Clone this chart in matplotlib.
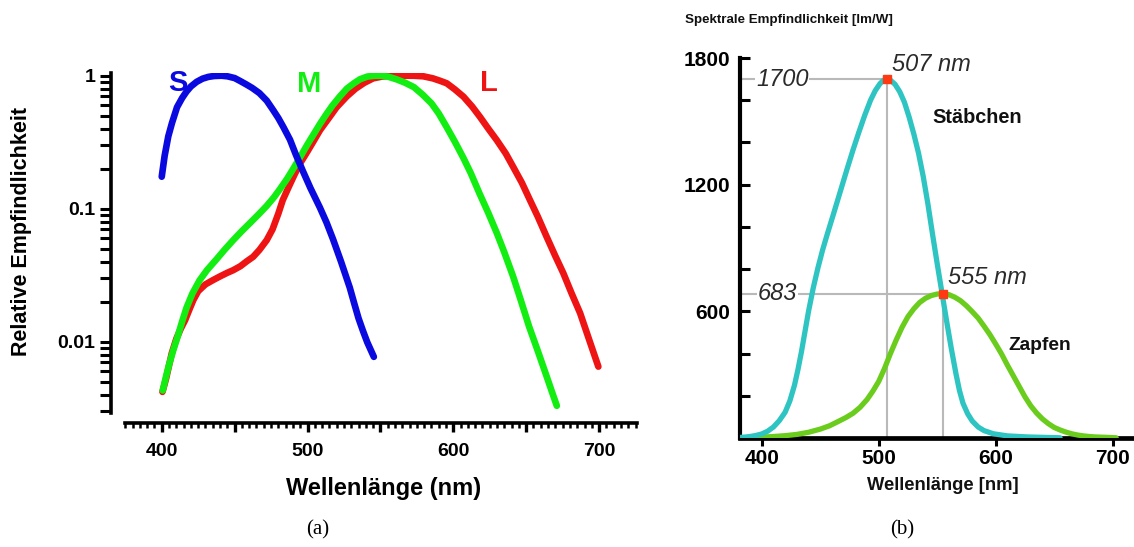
import matplotlib
matplotlib.use("Agg")
import matplotlib.pyplot as plt
from matplotlib import font_manager
from matplotlib.ticker import FixedLocator, FixedFormatter, LogLocator, NullFormatter, FuncFormatter

# ---------------- data: panel (a) relative sensitivity (log scale) ----------------
s_wl = [400, 402, 404.5, 407, 410.5, 414, 417, 420, 424, 428, 432, 436, 441, 445, 450, 454,
        458, 462, 467, 472, 476.5, 480, 483.5, 488, 492, 497, 502, 508.5, 513, 517.5, 523,
        529, 532, 535, 538, 541, 545.5]
s_val = [0.174, 0.25, 0.35, 0.44, 0.58, 0.68, 0.76, 0.83, 0.9, 0.95, 0.98, 0.995, 1.0, 0.99,
         0.96, 0.91, 0.86, 0.81, 0.74, 0.65, 0.55, 0.48, 0.41, 0.33, 0.255, 0.19, 0.143, 0.102,
         0.079, 0.059, 0.04, 0.0255, 0.0195, 0.015, 0.0121, 0.0099, 0.0077]

m_wl = [400.7, 403, 405, 408, 411, 414, 417, 421, 426, 431, 437, 443, 449, 455, 461, 467,
        472, 477, 481, 486, 490, 495, 500, 505, 508.6, 513, 517, 522, 527, 532, 536, 541,
        546, 550, 555, 561, 567, 573, 579, 585, 590, 595.5, 601, 607, 612, 618, 624, 630,
        635, 641, 646, 652, 658, 664, 668, 671]
m_val = [0.0043, 0.0055, 0.0067, 0.0087, 0.011, 0.0142, 0.018, 0.023, 0.029, 0.0345, 0.041,
         0.049, 0.058, 0.068, 0.079, 0.092, 0.105, 0.122, 0.14, 0.168, 0.198, 0.245, 0.305,
         0.375, 0.435, 0.515, 0.595, 0.695, 0.80, 0.88, 0.94, 0.985, 1.0, 1.0, 0.985, 0.94,
         0.885, 0.82, 0.72, 0.62, 0.52, 0.41, 0.32, 0.24, 0.185, 0.13, 0.093, 0.065, 0.047,
         0.031, 0.021, 0.013, 0.0085, 0.0055, 0.0041, 0.0033]

l_wl = [400.5, 403, 406.9, 410, 413, 416, 419, 421.7, 425, 430, 435, 440, 445, 449, 454,
        458, 462.7, 467, 472, 476, 480, 483, 487, 491, 495, 500, 504, 508.6, 514, 520, 527,
        533, 539, 545, 551, 557, 563.5, 572.6, 579.4, 586, 591, 595.5, 601, 607, 613, 618.3,
        624, 629.7, 636, 641, 647, 652.6, 658, 664, 670, 675.5, 681, 687, 693, 699.5]
l_val = [0.0042, 0.0053, 0.0082, 0.0105, 0.0125, 0.0145, 0.0175, 0.0206, 0.024, 0.027, 0.029,
         0.031, 0.033, 0.0345, 0.037, 0.040, 0.0435, 0.049, 0.058, 0.07, 0.092, 0.116, 0.145,
         0.18, 0.22, 0.27, 0.32, 0.39, 0.47, 0.58, 0.70, 0.80, 0.885, 0.955, 0.985, 1.0, 1.0,
         1.0, 0.99, 0.955, 0.915, 0.877, 0.79, 0.695, 0.585, 0.49, 0.40, 0.329, 0.26, 0.207,
         0.157, 0.116, 0.087, 0.0616, 0.044, 0.0327, 0.0233, 0.0164, 0.0105, 0.0065]

a_yticks = [0.01, 0.1, 1]
a_yticklabels = ["0.01", "0.1", "1"]
a_xmajor = [400, 450, 500, 550, 600, 650, 700]
a_xminor = list(range(375, 730, 5))
a_xlabels = [400, 500, 600, 700]

# ---------------- data: panel (b) spectral luminous efficacy ----------------
rod_wl = [380, 385, 390, 395, 400, 405, 410, 415, 420, 424, 428, 431, 434, 437, 440, 444,
          448, 452, 456, 461, 467, 473, 478, 483, 488, 493, 497, 501, 504, 507, 510, 514,
          518, 522, 526, 530, 534, 538, 542, 546, 550, 554, 558, 562, 566, 569, 572, 576,
          580, 585, 590, 598, 610, 627, 655]
rod_val = [2, 4, 7, 12, 19, 32, 52, 82, 122, 175, 250, 325, 410, 505, 600, 710,
           805, 890, 965, 1055, 1165, 1275, 1364, 1448, 1528, 1600, 1645, 1678, 1694, 1700,
           1695, 1675, 1640, 1590, 1520, 1440, 1350, 1240, 1110, 965, 825, 690, 555, 425,
           305, 225, 165, 115, 80, 52, 35, 20, 10, 5, 1]

cone_wl = [380, 390, 400, 410, 420, 430, 440, 450, 458, 466, 472, 478, 484, 490, 495, 500,
           505, 510, 515, 520, 525, 530, 535, 540, 545, 550, 555, 560, 565, 570, 575, 580,
           585, 590, 595, 600, 605, 610, 615, 620, 625, 630, 635, 640, 645, 650, 655, 660,
           665, 670, 675, 680, 685, 690, 695, 703]
cone_val = [0, 1, 4, 7, 11, 17, 27, 42, 58, 80, 97, 117, 145, 182, 222, 268,
            330, 400, 465, 525, 575, 612, 642, 662, 675, 682, 683, 679, 667, 650, 626, 598,
            568, 530, 490, 445, 398, 345, 295, 245, 195, 152, 118, 90, 68, 50, 38, 28,
            20, 14, 10, 7, 5, 4, 3, 1]

peaks_wl = [507, 555]
peaks_val = [1700, 683]
b_yticks = [200, 400, 600, 800, 1000, 1200, 1400, 1600, 1800]
b_ylabeled = [600, 1200, 1800]
b_xticks = [400, 500, 600, 700]


def pick(*names):
    for n in names:
        try:
            font_manager.findfont(font_manager.FontProperties(family=n), fallback_to_default=False)
            return n
        except Exception:
            pass
    return "DejaVu Sans"


sans = pick("Liberation Sans", "Arial", "DejaVu Sans")
serif = pick("Liberation Serif", "DejaVu Serif")
plt.rcParams["font.family"] = [sans, "DejaVu Sans"]

W, H = 1134, 547
fig = plt.figure(figsize=(W / 100, H / 100), dpi=100)


def rect(l, t, r, b):
    return [l / W, 1 - b / H, (r - l) / W, (b - t) / H]


# ================= panel (a) =================
ax1 = fig.add_axes(rect(110.7, 73, 637, 423))
ax1.set_yscale("log")
ax1.set_xlim(365, 726)
ax1.set_ylim(0.00245, 1.048)

kw = dict(lw=4.8, solid_capstyle="round", solid_joinstyle="round")
ax1.plot(l_wl, l_val, color="#ee1414", zorder=3, **kw)
ax1.plot(m_wl, m_val, color="#12ee12", zorder=4, **kw)
ax1.plot(s_wl, s_val, color="#0a0ae0", zorder=5, **kw)

ax1.text(411.2, 0.88, "S", color="#0a0ae0", fontsize=21, fontweight="bold", ha="center", va="center")
ax1.text(501.4, 0.87, "M", color="#12ee12", fontsize=21, fontweight="bold", ha="center", va="center")
ax1.text(624.5, 0.88, "L", color="#ee1414", fontsize=21, fontweight="bold", ha="center", va="center")

for sp in ["top", "right"]:
    ax1.spines[sp].set_visible(False)
ax1.spines["left"].set_linewidth(2.6)
ax1.spines["bottom"].set_linewidth(2.6)
ax1.spines["left"].set_bounds(0.0029, 1.048)
ax1.spines["bottom"].set_bounds(375, 726)

ax1.yaxis.set_major_locator(FixedLocator(a_yticks))
ax1.yaxis.set_major_formatter(FixedFormatter(a_yticklabels))
ax1.yaxis.set_minor_locator(LogLocator(base=10, subs=range(2, 10), numticks=20))
ax1.yaxis.set_minor_formatter(NullFormatter())
ax1.tick_params(axis="y", which="both", direction="out", length=8, width=2.2, pad=3,
                labelsize=14)
for t in ax1.get_yticklabels():
    t.set_fontweight("bold")

ax1.xaxis.set_major_locator(FixedLocator(a_xmajor))
ax1.xaxis.set_minor_locator(FixedLocator(a_xminor))
ax1.xaxis.set_major_formatter(FuncFormatter(lambda v, p: f"{int(round(v))}" if int(round(v)) in a_xlabels else ""))
ax1.tick_params(axis="x", which="major", direction="out", length=6.5, width=2.4, pad=8,
                labelsize=14)
ax1.tick_params(axis="x", which="minor", direction="out", length=3.4, width=1.8)
for t in ax1.get_xticklabels():
    t.set_fontweight("bold")

fig.text(22 / W, 1 - 231 / H, "Relative Empfindlichkeit", rotation=90, fontsize=15.5,
         fontweight="bold", ha="center", va="center")
fig.text(384 / W, 1 - 488 / H, "Wellenlänge (nm)", fontsize=17, fontweight="bold",
         ha="center", va="center")
fig.text(318 / W, 1 - 530 / H, "(a)", family=serif, fontsize=15, ha="center", va="center")

# ================= panel (b) =================
ax2 = fig.add_axes(rect(739.5, 58, 1134, 438))
ax2.set_xlim(381, 718.2)
ax2.set_ylim(0, 1800)

grey = "#b9b9b9"
ax2.plot([381, peaks_wl[0]], [peaks_val[0], peaks_val[0]], color=grey, lw=1.5, zorder=1)
ax2.plot([peaks_wl[0], peaks_wl[0]], [0, peaks_val[0]], color=grey, lw=1.5, zorder=1)
ax2.plot([381, peaks_wl[1]], [peaks_val[1], peaks_val[1]], color=grey, lw=1.5, zorder=1)
ax2.plot([peaks_wl[1], peaks_wl[1]], [0, peaks_val[1]], color=grey, lw=1.5, zorder=1)

kw2 = dict(lw=3.8, solid_capstyle="round", solid_joinstyle="round")
ax2.plot(cone_wl, cone_val, color="#6acc1c", zorder=3, **kw2)
ax2.plot(rod_wl, rod_val, color="#2ec4c2", zorder=4, **kw2)
ax2.plot(peaks_wl, peaks_val, ls="none", marker="s", ms=5.5, color="#ff3a12", zorder=5)

bb = dict(facecolor="white", edgecolor="none", pad=0.5)
ax2.text(417.7, 1700, "1700", style="italic", fontsize=17, color="#2a2a2a",
         ha="center", va="center", bbox=bb, zorder=2)
ax2.text(413.5, 683, "683", style="italic", fontsize=17, color="#2a2a2a",
         ha="center", va="center", bbox=bb, zorder=2)
ax2.text(511, 1767, "507 nm", style="italic", fontsize=17, color="#2a2a2a",
         ha="left", va="center")
ax2.text(559.2, 758, "555 nm", style="italic", fontsize=17, color="#2a2a2a",
         ha="left", va="center")
ax2.text(546.3, 1516, "Stäbchen", fontsize=14.3, fontweight="bold", color="#111111",
         ha="left", va="center")
ax2.text(610.5, 440, "Zapfen", fontsize=13.8, fontweight="bold", color="#111111",
         ha="left", va="center")

for sp in ["top", "right"]:
    ax2.spines[sp].set_visible(False)
ax2.spines["left"].set_linewidth(3.0)
ax2.spines["bottom"].set_linewidth(3.4)

ax2.yaxis.set_major_locator(FixedLocator(b_yticks))
ax2.yaxis.set_major_formatter(FuncFormatter(lambda v, p: f"{int(round(v))}" if int(round(v)) in b_ylabeled else ""))
ax2.tick_params(axis="y", direction="in", length=7.5, width=2.2, pad=7, labelsize=15)
ax2.xaxis.set_major_locator(FixedLocator(b_xticks))
ax2.tick_params(axis="x", direction="out", length=6, width=2.2, pad=2, labelsize=15)
for t in ax2.get_yticklabels() + ax2.get_xticklabels():
    t.set_fontweight("bold")

fig.text(942.5 / W, 1 - 485 / H, "Wellenlänge [nm]", fontsize=13.2, fontweight="bold",
         ha="center", va="center", color="#111111")
fig.text(685 / W, 1 - 20 / H, "Spektrale Empfindlichkeit [lm/W]", fontsize=9.6,
         fontweight="bold", ha="left", va="center", color="#111111")
fig.text(902 / W, 1 - 530 / H, "(b)", family=serif, fontsize=15, ha="center", va="center")

fig.savefig("out.png", dpi=100, facecolor="white")
